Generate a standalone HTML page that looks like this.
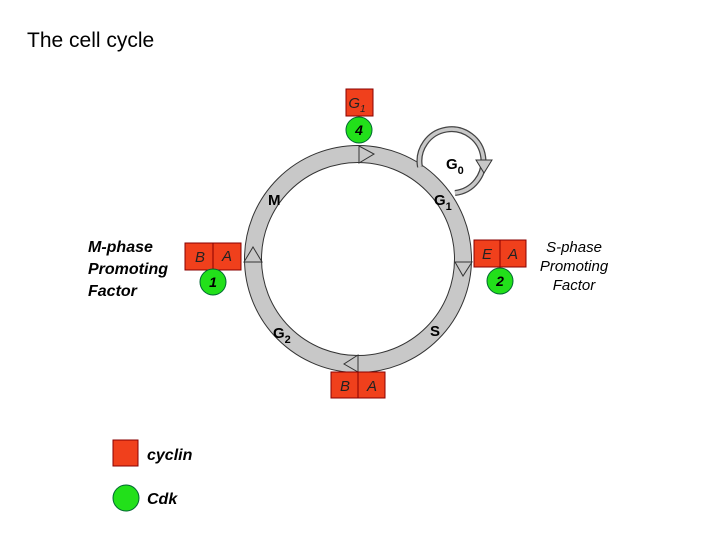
<!DOCTYPE html>
<html><head><style>body{margin:0;background:#fff}svg{display:block}</style></head><body>
<svg width="720" height="540" viewBox="0 0 720 540" xmlns="http://www.w3.org/2000/svg" font-family="Liberation Sans, Arial, sans-serif">
<rect width="720" height="540" fill="#fff"/>
<text x="27" y="47" font-size="21" fill="#000">The cell cycle</text>
<!-- ring -->
<circle cx="358" cy="259" r="105" fill="none" stroke="#c8c8c8" stroke-width="17"/>
<circle cx="358" cy="259" r="113.5" fill="none" stroke="#333" stroke-width="1"/>
<circle cx="358" cy="259" r="96.5" fill="none" stroke="#333" stroke-width="1"/>
<!-- G0 loop -->
<path d="M420 167 A32 32 0 1 1 455 193" fill="none" stroke="#444" stroke-width="6"/>
<path d="M420 167 A32 32 0 1 1 455 193" fill="none" stroke="#c8c8c8" stroke-width="3.5"/>
<polygon points="476,160 492,160 484,173" fill="#c8c8c8" stroke="#333" stroke-width="1"/>
<!-- ring arrowheads -->
<line x1="359" y1="146" x2="359" y2="163" stroke="#333"/>
<polygon points="359,146 359,163 374,154" fill="#c8c8c8" stroke="#333"/>
<line x1="455" y1="262" x2="472" y2="262" stroke="#333"/>
<polygon points="455,262 472,262 463,276" fill="#c8c8c8" stroke="#333"/>
<line x1="358" y1="355" x2="358" y2="372" stroke="#333"/>
<polygon points="358,355 358,372 344,364" fill="#c8c8c8" stroke="#333"/>
<line x1="244" y1="262" x2="262" y2="262" stroke="#333"/>
<polygon points="244,262 262,262 253,247" fill="#c8c8c8" stroke="#333"/>
<!-- labels -->
<g font-weight="bold" font-size="15" fill="#000">
<text x="268" y="205">M</text>
<text x="434" y="205">G<tspan font-size="11" dy="5">1</tspan></text>
<text x="446" y="169">G<tspan font-size="11" dy="5">0</tspan></text>
<text x="273" y="338">G<tspan font-size="11" dy="5">2</tspan></text>
<text x="430" y="336">S</text>
</g>
<!-- boxes -->
<g fill="#f0401c" stroke="#800" stroke-width="1">
<rect x="346" y="89" width="27" height="27"/>
<rect x="474" y="240" width="26" height="27"/>
<rect x="500" y="240" width="26" height="27"/>
<rect x="331" y="372" width="27" height="26"/>
<rect x="358" y="372" width="27" height="26"/>
<rect x="185" y="243" width="28" height="27"/>
<rect x="213" y="243" width="28" height="27"/>
<rect x="113" y="440" width="25" height="26"/>
</g>
<g fill="#22e01a" stroke="#063" stroke-width="1">
<circle cx="359" cy="130" r="13"/>
<circle cx="500" cy="281" r="13"/>
<circle cx="213" cy="282" r="13"/>
<circle cx="126" cy="498" r="13"/>
</g>
<g font-style="italic" font-size="15" fill="#222" text-anchor="middle">
<text x="357" y="108">G<tspan font-size="10" dy="4">1</tspan></text>
<text x="487" y="259">E</text>
<text x="513" y="259">A</text>
<text x="345" y="391">B</text>
<text x="372" y="391">A</text>
<text x="200" y="262">B</text>
<text x="227" y="261">A</text>
</g>
<g font-style="italic" font-weight="bold" font-size="14" fill="#000" text-anchor="middle">
<text x="359" y="135">4</text>
<text x="500" y="286">2</text>
<text x="213" y="287">1</text>
</g>
<g font-style="italic" font-weight="bold" font-size="16" fill="#000">
<text x="88" y="252">M-phase</text>
<text x="88" y="274">Promoting</text>
<text x="88" y="296">Factor</text>
<text x="147" y="460">cyclin</text>
<text x="147" y="504">Cdk</text>
</g>
<g font-style="italic" font-size="15" fill="#000" text-anchor="middle">
<text x="574" y="252">S-phase</text>
<text x="574" y="271">Promoting</text>
<text x="574" y="290">Factor</text>
</g>
</svg>
</body></html>
